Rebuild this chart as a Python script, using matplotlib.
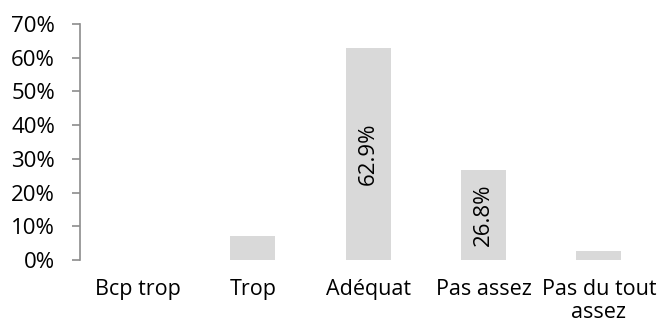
import matplotlib
matplotlib.use('Agg')
import matplotlib.pyplot as plt
from matplotlib.ticker import FuncFormatter

categories = ['Bcp trop', 'Trop', 'Adéquat', 'Pas assez', 'Pas du tout\nassez']
shares = [0.0, 7.1, 62.9, 26.8, 2.8]
labelled = [False, False, True, True, False]

plt.rcParams['font.family'] = ['Open Sans', 'DejaVu Sans']

fig = plt.figure(figsize=(6.62, 3.35), dpi=100)
ax = fig.add_axes([0.1208, 0.2239, 0.8709, 0.7045])

x = range(len(categories))
bars = ax.bar(x, shares, width=0.39, color='#d9d9d9')

for b, v, show in zip(bars, shares, labelled):
    if show:
        ax.text(b.get_x() + b.get_width() / 2, v / 2, '%.1f%%' % v,
                rotation=90, ha='center', va='center', fontsize=16)

ax.set_xlim(-0.5, len(categories) - 0.5)
ax.set_ylim(0, 70)
ax.set_yticks(range(0, 71, 10))
ax.yaxis.set_major_formatter(FuncFormatter(lambda v, p: '%d%%' % v))
ax.set_xticks(list(x))
ax.set_xticklabels(categories, fontsize=15.5, linespacing=1.1)
ax.tick_params(axis='x', length=0, pad=14)
ax.tick_params(axis='y', length=6, width=1.2, color='#8c8c8c', pad=12,
               labelsize=16)

for s in ['top', 'right', 'bottom']:
    ax.spines[s].set_visible(False)
ax.spines['left'].set_color('#8c8c8c')
ax.spines['left'].set_linewidth(1.2)

fig.savefig('out.png', dpi=100)
